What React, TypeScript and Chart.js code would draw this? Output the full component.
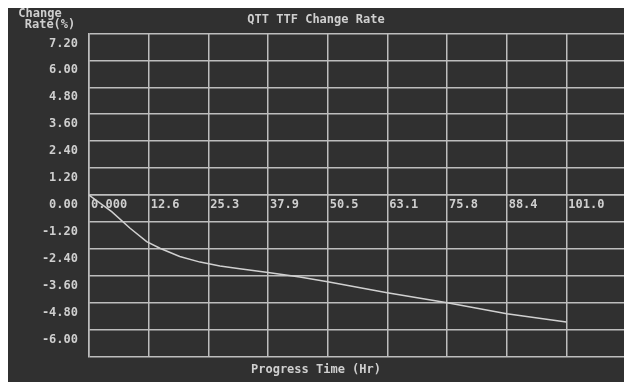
import { useEffect, useRef } from "react";
import { Chart, registerables } from "chart.js";

Chart.register(...registerables);

const chartTitle = "QTT TTF Change Rate";
const xAxisTitle = "Progress Time (Hr)";
const yAxisTitleLines = ["Change", "Rate(%)"];

const progressTime = [0, 4.8, 8.7, 12.2, 15.0, 19.2, 23.5, 27.7, 31.9, 37.9, 44.6, 50.5, 63.1, 75.8, 88.4, 101.0];
const changeRate = [0, -0.74, -1.48, -2.08, -2.37, -2.74, -2.99, -3.16, -3.29, -3.45, -3.65, -3.87, -4.36, -4.8, -5.29, -5.66];

const xTickValues = [0, 12.625, 25.25, 37.875, 50.5, 63.125, 75.75, 88.375, 101];
const xTickLabels = ["0.000", "12.6", "25.3", "37.9", "50.5", "63.1", "75.8", "88.4", "101.0"];
const yTickValues = [-7.2, -6, -4.8, -3.6, -2.4, -1.2, 0, 1.2, 2.4, 3.6, 4.8, 6, 7.2];
const yTickLabels = ["", "-6.00", "-4.80", "-3.60", "-2.40", "-1.20", "0.00", "1.20", "2.40", "3.60", "4.80", "6.00", "7.20"];

const X_MIN = 0;
const X_MAX = 113.2;
const Y_MIN = -7.2;
const Y_MAX = 7.2;

const BG = "#303030";
const GRID = "#bdbdbd";
const TEXT = "#cfcfcf";
const LINE = "#d0d0d0";
const FONT = "'DejaVu Sans Mono', 'Liberation Mono', monospace";

export default function App() {
  const ref = useRef<HTMLCanvasElement | null>(null);

  useEffect(() => {
    if (!ref.current) return;
    const bgPlugin = {
      id: "bgAndYTitle",
      beforeDraw(chart: any) {
        const ctx = chart.ctx;
        ctx.save();
        ctx.fillStyle = BG;
        ctx.fillRect(0, 0, chart.width, chart.height);
        ctx.restore();
      },
      afterDraw(chart: any) {
        const ctx = chart.ctx;
        ctx.save();
        ctx.fillStyle = TEXT;
        ctx.font = `bold 12px ${FONT}`;
        ctx.textAlign = "center";
        ctx.textBaseline = "middle";
        ctx.fillText(yAxisTitleLines[0], 32, 6);
        ctx.fillText(yAxisTitleLines[1], 42, 17);
        ctx.restore();
      },
    };

    const chart = new Chart(ref.current, {
      type: "line",
      data: {
        datasets: [
          {
            label: "Change Rate",
            data: progressTime.map((x, i) => ({ x, y: changeRate[i] })),
            borderColor: LINE,
            borderWidth: 1.5,
            pointRadius: 0,
            tension: 0,
            fill: false,
          },
        ],
      },
      options: {
        animation: false,
        responsive: false,
        layout: { padding: 0, autoPadding: false },
        font: { family: FONT },
        plugins: {
          legend: { display: false },
          tooltip: { enabled: false },
          title: {
            display: true,
            text: chartTitle,
            color: TEXT,
            font: { family: FONT, size: 12, weight: "bold" },
            padding: { top: 5, bottom: 6 },
          },
          subtitle: {
            display: true,
            position: "bottom",
            text: xAxisTitle,
            color: TEXT,
            font: { family: FONT, size: 12, weight: "bold" },
            padding: { top: 6, bottom: 5 },
          },
        },
        scales: {
          x: {
            type: "linear",
            position: { y: 0 } as any,
            min: X_MIN,
            max: X_MAX,
            afterBuildTicks: (scale: any) => {
              scale.ticks = xTickValues.map((v) => ({ value: v }));
            },
            grid: { color: GRID, lineWidth: 1.5, drawTicks: false },
            border: { display: true, color: GRID, width: 1.5 },
            ticks: {
              color: TEXT,
              font: { family: FONT, size: 12, weight: "bold" },
              align: "start",
              labelOffset: 2,
              padding: 3,
              maxRotation: 0,
              autoSkip: false,
              callback: (_v: any, i: number) => xTickLabels[i],
            },
          },
          y: {
            type: "linear",
            position: "left",
            min: Y_MIN,
            max: Y_MAX,
            afterBuildTicks: (scale: any) => {
              scale.ticks = yTickValues.map((v) => ({ value: v }));
            },
            afterFit: (scale: any) => {
              scale.width = 81;
            },
            grid: { color: GRID, lineWidth: 1.5, drawTicks: false },
            border: { display: true, color: GRID, width: 1.5 },
            ticks: {
              color: TEXT,
              font: { family: FONT, size: 12, weight: "bold" },
              padding: 11,
              labelOffset: 10,
              autoSkip: false,
              callback: (_v: any, i: number) => yTickLabels[i],
            },
          },
        },
      },
      plugins: [bgPlugin],
    } as any);
    return () => chart.destroy();
  }, []);

  return (
    <div style={{ position: "absolute", left: 8, top: 8, width: 616, height: 374 }}>
      <canvas ref={ref} width={616} height={374} style={{ display: "block" }} />
    </div>
  );
}
